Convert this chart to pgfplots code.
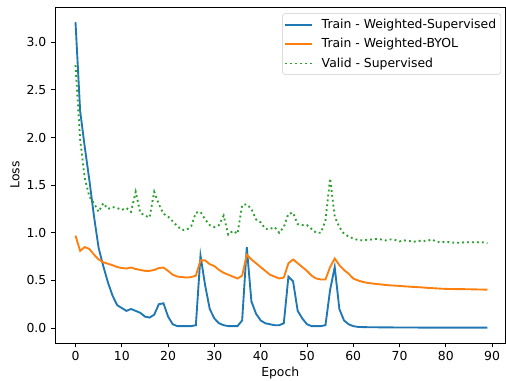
\documentclass[border=0pt]{standalone}
\usepackage{fontspec}
\setmainfont{DejaVu Sans}
\usepackage{pgfplots}
\pgfplotsset{compat=1.18}
\definecolor{c0}{HTML}{1F77B4}
\definecolor{c1}{HTML}{FF7F0E}
\definecolor{c2}{HTML}{2CA02C}
\pgfplotstableread{
e sup byol val
0 3.21 0.97 2.76
1 2.28 0.81 1.98
2 1.90 0.85 1.57
3 1.55 0.83 1.38
4 1.17 0.77 1.31
5 0.84 0.72 1.22
6 0.65 0.69 1.31
7 0.48 0.675 1.25
8 0.34 0.66 1.27
9 0.24 0.64 1.26
10 0.21 0.63 1.24
11 0.18 0.625 1.26
12 0.20 0.635 1.22
13 0.18 0.62 1.43
14 0.16 0.61 1.21
15 0.12 0.60 1.18
16 0.11 0.60 1.16
17 0.14 0.61 1.43
18 0.25 0.63 1.30
19 0.26 0.635 1.20
20 0.12 0.60 1.17
21 0.04 0.56 1.12
22 0.02 0.54 1.07
23 0.02 0.535 1.03
24 0.02 0.53 1.03
25 0.02 0.535 1.07
26 0.03 0.55 1.21
27 0.76 0.71 1.22
28 0.45 0.71 1.14
29 0.20 0.67 1.08
30 0.10 0.65 1.06
31 0.05 0.61 1.08
32 0.03 0.58 1.18
33 0.02 0.56 0.98
34 0.02 0.54 1.02
35 0.02 0.52 0.99
36 0.08 0.55 1.29
37 0.85 0.77 1.30
38 0.28 0.72 1.25
39 0.15 0.68 1.14
40 0.08 0.64 1.11
41 0.05 0.60 1.04
42 0.04 0.56 1.04
43 0.03 0.54 1.06
44 0.03 0.52 1.00
45 0.05 0.53 1.06
46 0.54 0.68 1.20
47 0.49 0.72 1.21
48 0.18 0.68 1.09
49 0.10 0.64 1.08
50 0.04 0.60 1.08
51 0.02 0.55 1.04
52 0.02 0.52 1.00
53 0.02 0.51 1.00
54 0.03 0.51 1.13
55 0.40 0.64 1.57
56 0.64 0.73 1.17
57 0.20 0.66 1.06
58 0.08 0.61 0.99
59 0.04 0.57 0.96
60 0.02 0.52 0.94
61 0.012 0.50 0.925
62 0.010 0.485 0.92
63 0.009 0.475 0.925
64 0.008 0.468 0.93
65 0.008 0.462 0.935
66 0.007 0.458 0.93
67 0.007 0.452 0.92
68 0.007 0.448 0.93
69 0.006 0.445 0.925
70 0.006 0.442 0.91
71 0.006 0.438 0.92
72 0.006 0.435 0.915
73 0.006 0.431 0.905
74 0.005 0.429 0.915
75 0.005 0.426 0.915
76 0.005 0.422 0.915
77 0.005 0.419 0.93
78 0.005 0.416 0.905
79 0.005 0.413 0.90
80 0.005 0.411 0.905
81 0.005 0.410 0.90
82 0.005 0.409 0.895
83 0.005 0.408 0.895
84 0.005 0.408 0.90
85 0.005 0.407 0.90
86 0.005 0.406 0.90
87 0.005 0.405 0.90
88 0.005 0.404 0.90
89 0.005 0.403 0.89
}\losses
\begin{document}
\fontsize{9.3}{11.2}\selectfont
\begin{tikzpicture}
\begin{axis}[
  at={(0,0)}, anchor=south west,
  scale only axis, width=337.9pt, height=252pt,
  xmin=-4.43, xmax=92.9, ymin=-0.157, ymax=3.37,
  xtick={0,10,...,90}, ytick={0,0.5,...,3.0},
  tick pos=left, tick align=outside, major tick length=3.25pt,
  every tick/.style={line width=0.6pt, black},
  axis line style={line width=0.6pt, black},
  /pgf/number format/assume math mode=true,
  yticklabel style={/pgf/number format/.cd, fixed, fixed zerofill, precision=1},
  xticklabel style={/pgf/number format/.cd, fixed, precision=0},
  ticklabel style={font=\fontsize{9.3}{11.2}\selectfont, text=black},
  xlabel={Epoch}, ylabel={Loss},
  xlabel style={at={(axis description cs:0.5,-0.0997)}, anchor=base, text=black},
  ylabel style={at={(axis description cs:-0.0888,0.5)}, anchor=center, text=black},
  legend style={at={(axis description cs:0.990,0.981)}, anchor=north east,
    draw=black!20, rounded corners=2pt, fill=white, fill opacity=0.8, text opacity=1,
    font=\fontsize{9.3}{11.2}\selectfont, row sep=2.1pt, column sep=4.5pt,
    inner xsep=1.5pt, inner ysep=2pt, text=black},
  legend cell align=left,
  legend image code/.code={\draw[#1] (0pt,0pt) -- (20pt,0pt);},
]
\addplot[c0, line width=1.4pt] table[x=e, y=sup] {\losses};
\addlegendentry{Train - Weighted-Supervised}
\addplot[c1, line width=1.4pt] table[x=e, y=byol] {\losses};
\addlegendentry{Train - Weighted-BYOL}
\addplot[c2, line width=1.4pt, dash pattern=on 1.4pt off 2.3pt] table[x=e, y=val] {\losses};
\addlegendentry{Valid - Supervised}
\end{axis}
\pgfresetboundingbox
\useasboundingbox (-41.25pt,-28.5pt) rectangle (338.25pt,257.25pt);
\end{tikzpicture}
\end{document}
